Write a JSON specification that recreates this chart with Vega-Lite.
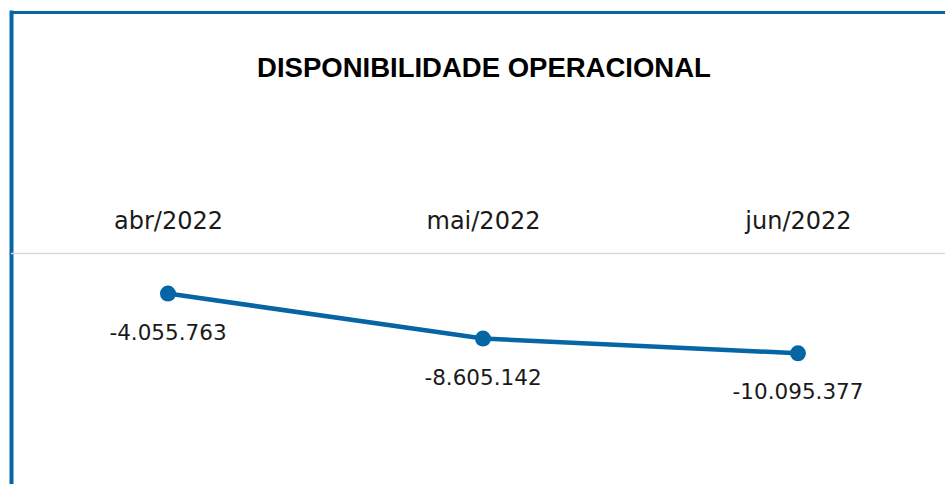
{
  "$schema": "https://vega.github.io/schema/vega-lite/v6.json",
  "width": 934,
  "height": 472,
  "autosize": {"type": "none"},
  "padding": {"left": 11, "top": 12, "right": 0, "bottom": 0},
  "background": "white",
  "config": {
    "view": {"stroke": null},
    "locale": {"number": {"decimal": ",", "thousands": ".", "grouping": [3], "currency": ["R$", ""], "minus": "-"}}
  },
  "title": {
    "text": "DISPONIBILIDADE OPERACIONAL",
    "font": "Liberation Sans",
    "fontSize": 27.5,
    "fontWeight": "bold",
    "color": "#000000",
    "anchor": "middle",
    "frame": "group",
    "orient": "top",
    "offset": -92,
    "dx": 6,
    "baseline": "alphabetic"
  },
  "data": {"values": [
    {"mes": "abr/2022", "valor": -4055763},
    {"mes": "mai/2022", "valor": -8605142},
    {"mes": "jun/2022", "valor": -10095377}
  ]},
  "layer": [
    {
      "data": {"values": [{"zero": 0}]},
      "mark": {"type": "rule", "color": "#d9d9d9", "strokeWidth": 1.5},
      "encoding": {"y": {"field": "zero", "type": "quantitative"}}
    },
    {
      "mark": {"type": "line", "color": "#0665a4", "strokeWidth": 4.5},
      "encoding": {
        "x": {"field": "mes", "type": "ordinal", "sort": null,
          "scale": {"type": "point", "padding": 0.4825, "align": 0.5164},
          "axis": {"orient": "top", "title": null, "domainColor": "#0665a4", "domainWidth": 3, "domainCap": "square",
            "ticks": false, "tickSize": 0, "labelPadding": -216, "labelBaseline": "alphabetic",
            "labelFont": "DejaVu Sans", "labelFontSize": 24, "labelColor": "#1a1a1a", "labelAngle": 0, "grid": false}},
        "y": {"field": "valor", "type": "quantitative",
          "scale": {"domain": [-23320000, 24430000], "zero": false, "nice": false},
          "axis": {"title": null, "labels": false, "ticks": false, "grid": false, "domainColor": "#0665a4", "domainWidth": 4, "domainCap": "square"}}
      }
    },
    {
      "mark": {"type": "circle", "color": "#0665a4", "size": 255, "opacity": 1},
      "encoding": {
        "x": {"field": "mes", "type": "ordinal", "sort": null},
        "y": {"field": "valor", "type": "quantitative"}
      }
    },
    {
      "mark": {"type": "text", "dy": 46, "baseline": "alphabetic", "align": "center", "font": "DejaVu Sans", "fontSize": 21.5, "color": "#1a1a1a"},
      "encoding": {
        "x": {"field": "mes", "type": "ordinal", "sort": null},
        "y": {"field": "valor", "type": "quantitative"},
        "text": {"field": "valor", "type": "quantitative", "format": ",d"}
      }
    }
  ]
}
